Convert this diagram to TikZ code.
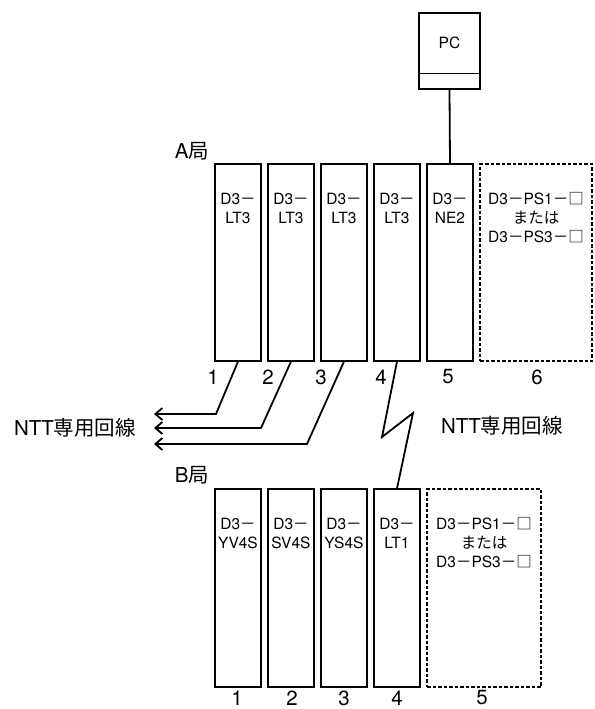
\documentclass[tikz,border=0pt]{standalone}
\usepackage{fontspec}
\setmainfont{TeX Gyre Heros}
\newfontfamily\jp{Noto Sans CJK JP}
\usetikzlibrary{arrows.meta}
\newcommand\dsh{{\jp －}}
\newcommand\bxs{{\jp □}}
\begin{document}
\begin{tikzpicture}[x=1pt,y=-1pt,
  unitA/.style={draw, line width=1.1pt, minimum width=46pt, minimum height=197pt, inner sep=0pt},
  unitB/.style={draw, line width=1.1pt, minimum width=46pt, minimum height=198pt, inner sep=0pt},
  dsh/.style={dash pattern=on 3.5pt off 2pt},
  lbl/.style={anchor=north, inner sep=0pt, align=center, font=\fontsize{15.5}{19}\selectfont},
  big/.style={inner sep=0pt, font=\fontsize{20.5}{24}\selectfont},
  conn/.style={line width=1.8pt},
  arr/.style={conn, line join=miter, -{Straight Barb[length=7pt,width=12pt,line width=1.8pt]}}
]
\useasboundingbox (0,0) rectangle (594,709);

% PC
\node[draw, line width=1.1pt, minimum width=61pt, minimum height=76pt, inner sep=0pt] (pc) at (449.5,51) {};
\node[inner sep=0pt, font=\fontsize{15.5}{19}\selectfont] (pct) at (449.5,43) {PC};
\draw[line width=1.1pt] ([yshift=16pt]pc.south west) -- ([yshift=16pt]pc.south east);

% A station
\node[big] (alab) at (192,151) {A{\jp 局}};
\node[unitA] (a1) at (238,262.5) {};
\node[unitA] (a2) at (291,262.5) {};
\node[unitA] (a3) at (344,262.5) {};
\node[unitA] (a4) at (397,262.5) {};
\node[unitA] (a5) at (450,262.5) {};
\node[unitA, minimum width=112pt, dsh] (a6) at (536,262.5) {};
\node[lbl] (a1t) at ([yshift=-30pt]a1.north) {D3\dsh\\LT3};
\node[lbl] (a2t) at ([yshift=-30pt]a2.north) {D3\dsh\\LT3};
\node[lbl] (a3t) at ([yshift=-30pt]a3.north) {D3\dsh\\LT3};
\node[lbl] (a4t) at ([yshift=-30pt]a4.north) {D3\dsh\\LT3};
\node[lbl] (a5t) at ([yshift=-30pt]a5.north) {D3\dsh\\NE2};
\node[lbl] (a6t) at ([yshift=-29pt]a6.north) {D3\dsh PS1\dsh\bxs\\{\jp または}\\D3\dsh PS3\dsh\bxs};
\node[big] (na1) at (213,377) {1};
\node[big] (na2) at (268,377) {2};
\node[big] (na3) at (321,377) {3};
\node[big] (na4) at (381,377) {4};
\node[big] (na5) at (448,377) {5};
\node[big] (na6) at (537,377) {6};

\draw[conn] (pc.south) -- (a5.north);

% B station
\node[big] (blab) at (192,475) {B{\jp 局}};
\node[unitB] (b1) at (238,588) {};
\node[unitB] (b2) at (291,588) {};
\node[unitB] (b3) at (344,588) {};
\node[unitB] (b4) at (397,588) {};
\node[unitB, minimum width=114pt, dsh] (b5) at (484,588) {};
\node[lbl] (b1t) at ([yshift=-30pt]b1.north) {D3\dsh\\YV4S};
\node[lbl] (b2t) at ([yshift=-30pt]b2.north) {D3\dsh\\SV4S};
\node[lbl] (b3t) at ([yshift=-30pt]b3.north) {D3\dsh\\YS4S};
\node[lbl] (b4t) at ([yshift=-30pt]b4.north) {D3\dsh\\LT1};
\node[lbl] (b5t) at ([yshift=-29pt]b5.north) {D3\dsh PS1\dsh\bxs\\{\jp または}\\D3\dsh PS3\dsh\bxs};
\node[big] (nb1) at (237,698) {1};
\node[big] (nb2) at (292,698) {2};
\node[big] (nb3) at (344,698) {3};
\node[big] (nb4) at (397,698) {4};
\node[big] (nb5) at (482,698) {5};

% NTT lines
\node[big] (nttl) at (75,428) {NTT{\jp 専用回線}};
\node[big] (nttr) at (502,426) {NTT{\jp 専用回線}};
\coordinate (p1) at (216,414); \coordinate (t1) at (154,414);
\coordinate (p2) at (261,428); \coordinate (t2) at (154,428);
\coordinate (p3) at (307,444); \coordinate (t3) at (154,444);
\draw[arr] (a1.south) -- (p1) -- (t1);
\draw[arr] (a2.south) -- (p2) -- (t2);
\draw[arr] (a3.south) -- (p3) -- (t3);
\coordinate (z1) at (382,437); \coordinate (z2) at (413,413);
\draw[conn, line join=miter] (a4.south) -- (z1) -- (z2) -- (b4.north);
\end{tikzpicture}
\end{document}
